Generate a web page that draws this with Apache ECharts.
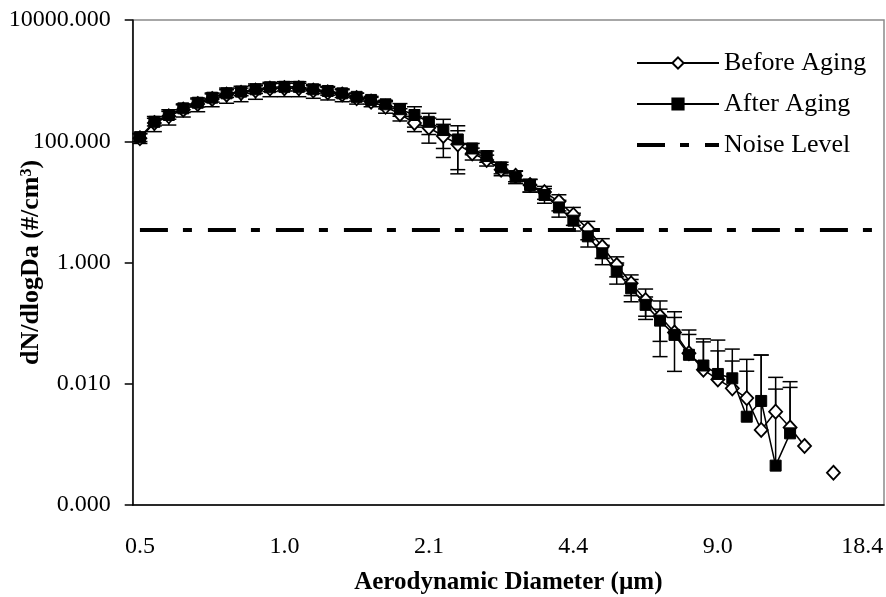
<!DOCTYPE html>
<html>
<head>
<meta charset="utf-8">
<script src="https://cdn.jsdelivr.net/npm/echarts@6/dist/echarts.min.js"></script>
<style>
  html, body { margin: 0; padding: 0; background: #fff; }
  #main { width: 886px; height: 597px; }
</style>
</head>
<body>
<div id="main"></div>
<script>
// APS channel midpoints (um), one category per channel
const diameters = [0.523, 0.542, 0.583, 0.626, 0.673, 0.723, 0.777, 0.835, 0.898, 0.965,
  1.037, 1.114, 1.197, 1.286, 1.382, 1.486, 1.596, 1.715, 1.843, 1.981,
  2.129, 2.288, 2.458, 2.642, 2.839, 3.051, 3.278, 3.523, 3.786, 4.068,
  4.371, 4.698, 5.048, 5.425, 5.829, 6.264, 6.732, 7.234, 7.774, 8.354,
  8.977, 9.647, 10.37, 11.14, 11.97, 12.86, 13.82, 14.86, 15.96, 17.15,
  18.43, 19.81];

// dN/dlogDa (#/cm3)
const before = [112, 200, 258, 332, 412, 498, 588, 628, 686, 740,
  752, 752, 686, 640, 590, 515, 450, 370, 280, 200,
  167, 122, 89, 63, 49, 34, 27, 19, 14.5, 10.1,
  6.1, 3.57, 1.82, 0.91, 0.454, 0.24, 0.13, 0.07, 0.032, 0.017,
  0.0118, 0.0084, 0.0058, 0.00173, 0.00346, 0.0019, 0.00094, null, 0.00034];
const beforeErr = [20, 56, 73, 81, 105, 127, 165, 179, 194, 197,
  209, 209, 175, 160, 141, 105, 79, 80, 64, 56,
  74, 68, 60, 14, 10, 7, 5.5, 4.5, 3.5, 3,
  2, 1.2, 0.65, 0.33, 0.17, 0.125, 0.102, 0.054, 0.033, 0.032,
  0.023, 0.0153, 0.0103, 0.028, 0.0047, 0.0068, null, null, null];

const after = [117, 209, 271, 349, 432, 523, 617, 658, 719, 776,
  790, 790, 719, 675, 617, 540, 480, 407, 338, 271,
  209, 153, 107, 76, 57, 37, 26, 19, 13, 8.1,
  4.9, 2.7, 1.42, 0.71, 0.375, 0.2, 0.11, 0.064, 0.03, 0.02,
  0.0145, 0.0123, 0.00286, 0.0052, 0.000446, 0.00152];
const afterErr = [18, 30, 40, 50, 65, 80, 90, 95, 105, 115,
  115, 115, 105, 100, 90, 80, 70, 65, 80, 100,
  80, 77, 73, 16, 12, 8, 6, 4.5, 3.5, 2.5,
  1.6, 0.9, 0.5, 0.27, 0.15, 0.07, 0.06, 0.09, 0.047, 0.035,
  0.038, 0.025, 0.0224, 0.0246, 0.0123, 0.0093];

const noiseLevel = 3.44;

const FONT = "'Liberation Serif', 'Times New Roman', serif";

// [index, low, high, hasLow] ; a negative low bound can't go on a log axis
function errorBars(vals, errs) {
  const out = [];
  vals.forEach(function (v, i) {
    if (v == null || !errs[i]) return;
    const lo = v - errs[i];
    out.push([i, lo > 0 ? lo : v, v + errs[i], lo > 0 ? 1 : 0]);
  });
  return out;
}

function renderErr(params, api) {
  const i = api.value(0);
  const lo = api.coord([i, api.value(1)]);
  const hi = api.coord([i, api.value(2)]);
  const cap = 7.5;
  const style = { stroke: '#000', lineWidth: 1.5 };
  const children = [
    { type: 'line', shape: { x1: hi[0], y1: hi[1], x2: lo[0], y2: lo[1] }, style: style },
    { type: 'line', shape: { x1: hi[0] - cap, y1: hi[1], x2: hi[0] + cap, y2: hi[1] }, style: style }
  ];
  if (api.value(3) === 1) {
    children.push({ type: 'line', shape: { x1: lo[0] - cap, y1: lo[1], x2: lo[0] + cap, y2: lo[1] }, style: style });
  }
  return { type: 'group', children: children };
}

const myChart = echarts.init(document.getElementById('main'));

myChart.setOption({
  animation: false,
  backgroundColor: '#fff',
  grid: {
    left: 132.7, right: 2, top: 20, bottom: 92,
    show: true, borderColor: '#8a8a8a', borderWidth: 1.5,
    outerBoundsMode: 'none'
  },
  legend: {
    data: [
      'Before Aging',
      'After Aging',
      { name: 'Noise Level', itemStyle: { opacity: 0 }, lineStyle: { width: 4, type: [28, 15, 9, 16] } }
    ],
    orient: 'vertical',
    left: 630, top: 45,
    itemWidth: 82, itemHeight: 14, itemGap: 15,
    textStyle: { fontFamily: FONT, fontSize: 26, color: '#000' }
  },
  xAxis: {
    type: 'category',
    data: diameters,
    boundaryGap: true,
    axisLine: { lineStyle: { color: '#000', width: 1.5 } },
    axisTick: { interval: 9, length: 8, lineStyle: { color: '#000', width: 1.5 } },
    axisLabel: {
      interval: 9, margin: 30,
      fontFamily: FONT, fontSize: 24, color: '#000',
      formatter: function (v) { return Number(v).toFixed(1); }
    },
    splitLine: { show: false },
    name: 'Aerodynamic Diameter (µm)',
    nameLocation: 'middle', nameGap: 65,
    nameMoveOverlap: false,
    nameTextStyle: { fontFamily: FONT, fontSize: 25, fontWeight: 'bold', color: '#000' }
  },
  yAxis: {
    type: 'log', logBase: 100,
    min: 0.0001, max: 10000,
    axisLine: { show: true, lineStyle: { color: '#000', width: 1.5 } },
    axisTick: { show: true, length: 8, lineStyle: { color: '#000', width: 1.5 } },
    splitLine: { show: false },
    axisLabel: {
      margin: 22,
      fontFamily: FONT, fontSize: 24, color: '#000',
      formatter: function (v) { return v.toFixed(3); }
    },
    name: '{t|dN/dlogDa (#/cm}{s|3}{t|)}',
    nameLocation: 'middle', nameGap: 88, nameRotate: 90,
    nameMoveOverlap: false,
    nameTextStyle: {
      rich: {
        t: { fontFamily: FONT, fontSize: 26, fontWeight: 'bold', color: '#000', lineHeight: 26 },
        s: { fontFamily: FONT, fontSize: 16, fontWeight: 'bold', color: '#000', verticalAlign: 'top', lineHeight: 16 }
      }
    }
  },
  series: [
    {
      type: 'custom', name: 'beforeErr',
      data: errorBars(before, beforeErr),
      renderItem: renderErr,
      encode: { x: 0, y: [1, 2] },
      z: 1, silent: true
    },
    {
      type: 'custom', name: 'afterErr',
      data: errorBars(after, afterErr),
      renderItem: renderErr,
      encode: { x: 0, y: [1, 2] },
      z: 1, silent: true
    },
    {
      name: 'Noise Level',
      type: 'line',
      data: diameters.map(function () { return noiseLevel; }),
      symbol: 'none',
      lineStyle: { color: '#000', width: 4, type: [28, 15, 9, 16] },
      itemStyle: { color: '#000' },
      z: 1
    },
    {
      name: 'Before Aging',
      type: 'line',
      data: before,
      connectNulls: false,
      showAllSymbol: true,
      symbol: 'diamond', symbolSize: [13, 14],
      lineStyle: { color: '#000', width: 1.5 },
      itemStyle: { color: '#fff', borderColor: '#000', borderWidth: 1.8 },
      z: 3
    },
    {
      name: 'After Aging',
      type: 'line',
      data: after,
      showAllSymbol: true,
      symbol: 'rect', symbolSize: 11,
      lineStyle: { color: '#000', width: 1.5 },
      itemStyle: { color: '#000', borderColor: '#000', borderWidth: 1 },
      z: 4
    }
  ]
});
</script>
</body>
</html>
